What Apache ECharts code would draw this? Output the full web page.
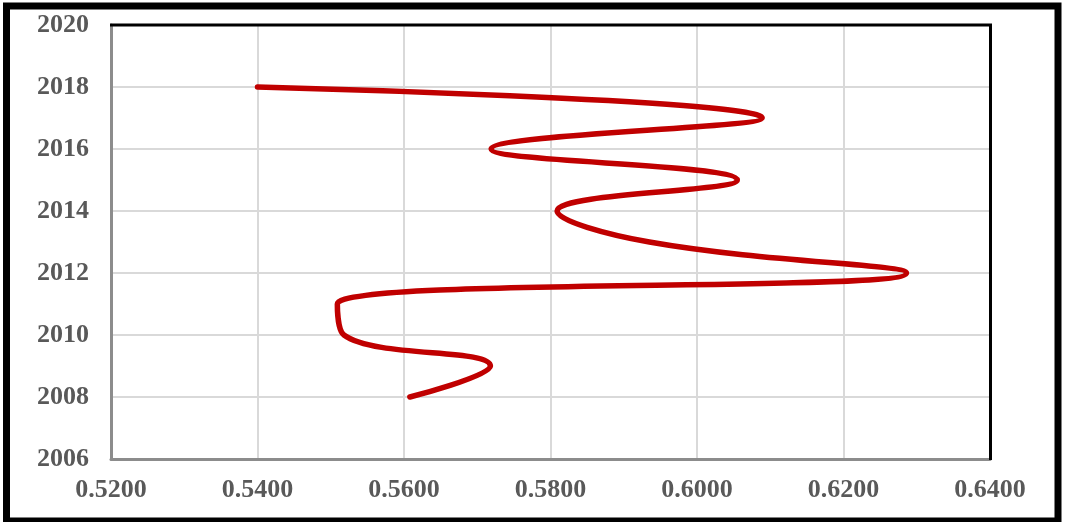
<!DOCTYPE html>
<html>
<head>
<meta charset="utf-8">
<script src="https://cdn.jsdelivr.net/npm/echarts@6/dist/echarts.min.js"></script>
<style>
  html, body { margin: 0; padding: 0; background: #fff; }
  #chart { width: 1068px; height: 522px; }
</style>
</head>
<body>
<div id="chart"></div>
<script>
// Yearly values, read from bottom (2008) to top (2018)
const years = [2008, 2009, 2010, 2011, 2012, 2013, 2014, 2015, 2016, 2017, 2018];
const values = [0.5608, 0.5718, 0.5518, 0.5509, 0.6286, 0.5935, 0.5809, 0.6055, 0.5719, 0.6089, 0.5400];

// Axis ranges and tick steps
const xMin = 0.52, xMax = 0.64, xStep = 0.02;
const yMin = 2006, yMax = 2020, yStep = 2;

const labelFont = {
  color: '#595959',
  fontFamily: '"Liberation Serif", "Times New Roman", serif',
  fontWeight: 'bold',
  fontSize: 26
};

const chart = echarts.init(document.getElementById('chart'), null, { renderer: 'canvas' });

chart.setOption({
  animation: false,
  backgroundColor: '#fff',
  grid: { left: 111, top: 25, width: 879, height: 434 },
  xAxis: {
    type: 'value',
    min: xMin, max: xMax, interval: xStep,
    axisLine: { show: true, lineStyle: { color: '#8c8c8c', width: 3 } },
    axisTick: { show: false },
    splitLine: { show: true, lineStyle: { color: '#d9d9d9', width: 2 } },
    axisLabel: Object.assign({ margin: 18, formatter: v => v.toFixed(4) }, labelFont)
  },
  yAxis: {
    type: 'value',
    min: yMin, max: yMax, interval: yStep,
    axisLine: { show: true, lineStyle: { color: '#8c8c8c', width: 3 } },
    axisTick: { show: false },
    splitLine: { show: true, lineStyle: { color: '#d9d9d9', width: 2 } },
    axisLabel: Object.assign({ margin: 22, formatter: v => String(v) }, labelFont)
  },
  series: [{
    type: 'line',
    data: years.map((y, i) => [values[i], y]),
    smooth: 0.45,
    showSymbol: false,
    lineStyle: { color: '#c00000', width: 5.5, cap: 'round', join: 'round' }
  }]
});

// Dark top and right edges of the plot frame, plus the outer page frame
const topLeft = chart.convertToPixel({ gridIndex: 0 }, [xMin, yMax]);
const topRight = chart.convertToPixel({ gridIndex: 0 }, [xMax, yMax]);
const bottomRight = chart.convertToPixel({ gridIndex: 0 }, [xMax, yMin]);
chart.setOption({
  graphic: [
    {
      type: 'polyline',
      shape: { points: [[topLeft[0] - 1, topLeft[1]], [topRight[0] + 0.5, topRight[1]], [bottomRight[0] + 0.5, bottomRight[1] + 1]] },
      style: { fill: 'none', stroke: '#000', lineWidth: 3 },
      z: 10,
      silent: true
    },
    {
      type: 'rect',
      shape: { x: 6.5, y: 6, width: 1051.5, height: 515 },
      style: { fill: 'none', stroke: '#000', lineWidth: 7 },
      z: 10,
      silent: true
    }
  ]
});
</script>
</body>
</html>
